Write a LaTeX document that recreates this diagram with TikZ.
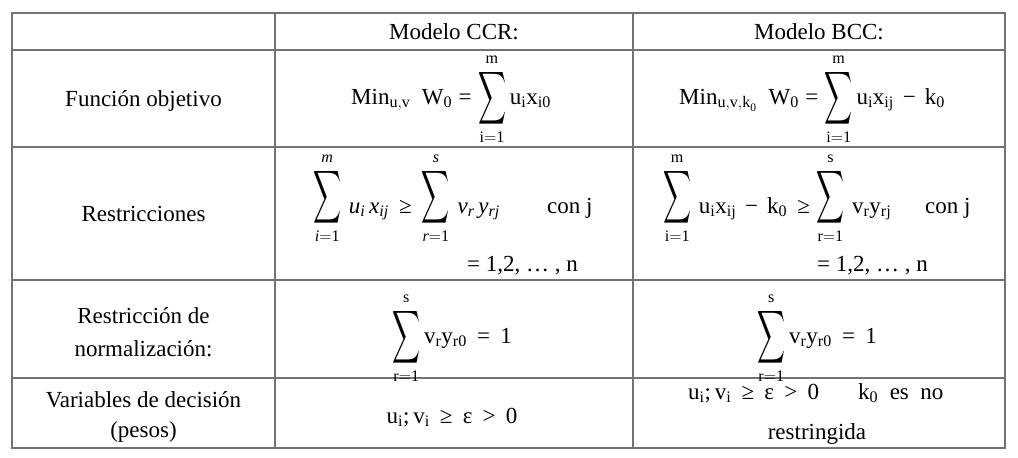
\RequirePackage{fix-cm}
\documentclass[tikz,border=0pt]{standalone}
\usepackage{amsmath}
\usepackage{fontspec}
\setmainfont{Liberation Serif}
\newcommand{\bigS}[1][0pt]{\mathop{\raisebox{#1}{$\vcenter{\hbox{\resizebox*{28pt}{59pt}{$\displaystyle\sum$}}}$}}\limits}
\newcommand{\tge}{\mathrel{\mbox{≥}}}
\newcommand{\tgt}{\mathrel{\mbox{>}}}
\newcommand{\tmi}{\mathbin{\mbox{−}}}
\newcommand{\teq}{\mathrel{\mbox{=}}}
\newcommand{\seq}{\mathrel{\mathrm{=}}}
\newcommand{\tsc}{\mbox{;}}
\tikzset{
  rule/.style={draw=black!55, line width=1.6pt, line cap=rect},
  txt/.style={font=\fontsize{23}{28}\selectfont, inner sep=0pt, anchor=base},
  txtw/.style={txt, anchor=base west},
}
\begin{document}
\begin{tikzpicture}[x=1pt,y=-1pt]
\useasboundingbox (0,0) rectangle (1018,458);
% grid
\foreach \yy in {13,50,147,280,378,448} \draw[rule] (12,\yy) -- (1005,\yy);
\foreach \xx in {12,275,633,1005} \draw[rule] (\xx,13) -- (\xx,448);
% header
\node[txt] (hccr) at (454,39) {Modelo CCR:};
\node[txt] (hbcc) at (819,39) {Modelo BCC:};
% row 1
\node[txt] (l1) at (143.5,106) {Función objetivo};
\node[txt] (c1) at (451,104) {$\mathrm{Min}_{\mathrm{u{,}v}}\enspace\mathrm{W}_{\mathrm{0}}\teq\bigS_{\mathrm{i}\seq\mathrm{1}}^{\mathrm{m}}\mathrm{u}_{\mathrm{i}}\mathrm{x}_{\mathrm{i0}}$};
\node[txt] (b1) at (812,104) {$\mathrm{Min}_{\mathrm{u{,}v{,}k}_{\mathrm{0}}}\enspace\mathrm{W}_{\mathrm{0}}\teq\bigS_{\mathrm{i}\seq\mathrm{1}}^{\mathrm{m}}\mathrm{u}_{\mathrm{i}}\mathrm{x}_{\mathrm{ij}}\,\tmi\,\mathrm{k}_{\mathrm{0}}$};
% row 2
\node[txt] (l2) at (143.5,221) {Restricciones};
\node[txtw] (c2) at (313,213) {$\bigS[10pt]_{\mathit{i}\seq\mathrm{1}}^{\mathit{m}}\,\mathit{u}_{\mathit{i}}\,\mathit{x}_{\mathit{ij}}\,\tge\,\bigS[10pt]_{\mathit{r}\seq\mathrm{1}}^{\mathit{s}}\,\mathit{v}_{\mathit{r}}\,\mathit{y}_{\mathit{rj}}$};
\node[txtw] (c2c) at (547,213) {con j};
\node[txtw] (c2b) at (467,271) {= 1,2, … , n};
\node[txtw] (b2) at (663,213) {$\bigS[10pt]_{\mathrm{i}\seq\mathrm{1}}^{\mathrm{m}}\,\mathrm{u}_{\mathrm{i}}\mathrm{x}_{\mathrm{ij}}\,\tmi\,\mathrm{k}_{\mathrm{0}}\,\tge\bigS[10pt]_{\mathrm{r}\seq\mathrm{1}}^{\mathrm{s}}\,\mathrm{v}_{\mathrm{r}}\mathrm{y}_{\mathrm{rj}}$};
\node[txtw] (b2c) at (925,213) {con j};
\node[txtw] (b2b) at (817,271) {= 1,2, … , n};
% row 3
\node[txt] (l3a) at (143.5,323) {Restricción de};
\node[txt] (l3b) at (143.5,356) {normalización:};
\node[txt] (c3) at (452,343) {$\bigS_{\mathrm{r}\seq\mathrm{1}}^{\mathrm{s}}\mathrm{v}_{\mathrm{r}}\mathrm{y}_{\mathrm{r0}}\,\teq\,\mbox{1}$};
\node[txt] (b3) at (817,343) {$\bigS_{\mathrm{r}\seq\mathrm{1}}^{\mathrm{s}}\mathrm{v}_{\mathrm{r}}\mathrm{y}_{\mathrm{r0}}\,\teq\,\mbox{1}$};
% row 4
\node[txt] (l4a) at (143.5,407) {Variables de decisión};
\node[txt] (l4b) at (143.5,437) {(pesos)};
\node[txt] (c4) at (452,423) {$\mathrm{u}_{\mathrm{i}}\tsc\,\mathrm{v}_{\mathrm{i}}\,\tge\,\mbox{ε}\,\tgt\,\mbox{0}$};
\node[txtw] (b4a) at (688,399) {$\mathrm{u}_{\mathrm{i}}\tsc\,\mathrm{v}_{\mathrm{i}}\,\tge\,\mbox{ε}\,\tgt\,\mbox{0}$};
\node[txtw] (b4k) at (858,399) {$\mathrm{k}_{\mathrm{0}}$\ \ es\ \ no};
\node[txt] (b4b) at (817,439) {restringida};
\end{tikzpicture}
\end{document}
